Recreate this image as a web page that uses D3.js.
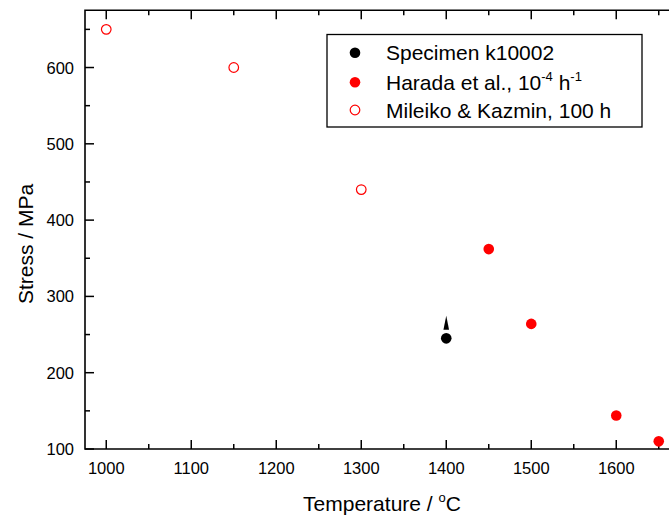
<!DOCTYPE html>
<html>
<head>
<meta charset="utf-8">
<script src="https://cdn.jsdelivr.net/npm/d3@7"></script>
<style>
  html, body { margin: 0; padding: 0; background: #fff; }
  svg { display: block; font-family: Arial, "Liberation Sans", sans-serif; }
</style>
</head>
<body>
<script>
// Creep / rupture stress versus temperature
const specimenT = [1400];
const specimenS = [245];
const haradaT = [1450, 1500, 1600, 1650];
const haradaS = [362, 264, 144, 110];
const mileikoT = [1000, 1150, 1300];
const mileikoS = [650, 600, 440];
const xMajor = [1000, 1100, 1200, 1300, 1400, 1500, 1600];
const xMinor = [1050, 1150, 1250, 1350, 1450, 1550, 1650];
const yMajor = [100, 200, 300, 400, 500, 600];
const yMinor = [150, 250, 350, 450, 550, 650];

const W = 669, H = 517;
const svg = d3.select("body").append("svg").attr("width", W).attr("height", H);

const x = d3.scaleLinear().domain([975, 1675]).range([85, 680]);
const y = d3.scaleLinear().domain([100, 675]).range([449, 10.3]);

const g = svg.append("g");
const axisColor = "#000";

// frame
const x0 = x.range()[0], x1 = x.range()[1], yb = y.range()[0], yt = y.range()[1];
g.append("path")
  .attr("d", `M${x0},${yt}H${x1}V${yb}H${x0}Z`)
  .attr("fill", "none").attr("stroke", axisColor).attr("stroke-width", 1.6);

// inward ticks, bottom and top
function xTicks(vals, len) {
  vals.forEach(v => {
    g.append("line").attr("x1", x(v)).attr("x2", x(v)).attr("y1", yb).attr("y2", yb - len)
      .attr("stroke", axisColor).attr("stroke-width", 1.5);
    g.append("line").attr("x1", x(v)).attr("x2", x(v)).attr("y1", yt).attr("y2", yt + len)
      .attr("stroke", axisColor).attr("stroke-width", 1.5);
  });
}
function yTicks(vals, len) {
  vals.forEach(v => {
    g.append("line").attr("x1", x0).attr("x2", x0 + len).attr("y1", y(v)).attr("y2", y(v))
      .attr("stroke", axisColor).attr("stroke-width", 1.5);
  });
}
xTicks(xMajor, 9); xTicks(xMinor, 5);
yTicks(yMajor, 9); yTicks(yMinor, 5);

// tick labels
g.selectAll(".xl").data(xMajor).enter().append("text")
  .attr("x", d => x(d)).attr("y", 473.5)
  .attr("text-anchor", "middle").attr("font-size", 16.5).text(d => d);
g.selectAll(".yl").data(yMajor).enter().append("text")
  .attr("x", 74).attr("y", d => y(d) + 6)
  .attr("text-anchor", "end").attr("font-size", 16.5).text(d => d);

// axis titles
const xt = svg.append("text").attr("x", 382).attr("y", 510.5)
  .attr("text-anchor", "middle").attr("font-size", 21);
xt.append("tspan").text("Temperature / ");
xt.append("tspan").attr("font-size", 13).attr("dy", -9).text("o");
xt.append("tspan").attr("dy", 9).text("C");

svg.append("text")
  .attr("transform", "translate(32.5,244) rotate(-90)")
  .attr("text-anchor", "middle").attr("font-size", 21).text("Stress / MPa");

// data marks
const r = 5.3;
g.selectAll(".mk").data(mileikoT).enter().append("circle")
  .attr("cx", d => x(d)).attr("cy", (d, i) => y(mileikoS[i])).attr("r", r - 0.5)
  .attr("fill", "none").attr("stroke", "#ff0000").attr("stroke-width", 1.2);
g.selectAll(".hd").data(haradaT).enter().append("circle")
  .attr("cx", d => x(d)).attr("cy", (d, i) => y(haradaS[i])).attr("r", r)
  .attr("fill", "#ff0000");
g.selectAll(".sp").data(specimenT).enter().append("circle")
  .attr("cx", d => x(d)).attr("cy", (d, i) => y(specimenS[i])).attr("r", r)
  .attr("fill", "#000");
// upward arrow: the specimen did not fail at this stress
specimenT.forEach((t, i) => {
  const cx = x(t), cy = y(specimenS[i]);
  g.append("path")
    .attr("d", `M${cx},${cy - 22.5}L${cx - 2.8},${cy - 8.5}L${cx + 2.8},${cy - 8.5}Z`)
    .attr("fill", "#000");
});

// legend
const lg = svg.append("g");
lg.append("rect").attr("x", 327).attr("y", 34.5).attr("width", 315).attr("height", 92.5)
  .attr("fill", "#fff").attr("stroke", "#000").attr("stroke-width", 1.3);
const rows = [52.7, 82.3, 110];
lg.append("circle").attr("cx", 355).attr("cy", rows[0]).attr("r", r).attr("fill", "#000");
lg.append("circle").attr("cx", 355).attr("cy", rows[1]).attr("r", r).attr("fill", "#ff0000");
lg.append("circle").attr("cx", 355).attr("cy", rows[2]).attr("r", r - 0.5)
  .attr("fill", "none").attr("stroke", "#ff0000").attr("stroke-width", 1.2);

const t1 = lg.append("text").attr("x", 386).attr("y", rows[0] + 7.5).attr("font-size", 21);
t1.text("Specimen k10002");
const t2 = lg.append("text").attr("x", 386).attr("y", rows[1] + 7.5).attr("font-size", 21);
t2.append("tspan").text("Harada et al., 10");
t2.append("tspan").attr("font-size", 13).attr("dy", -9).text("-4");
t2.append("tspan").attr("dy", 9).text(" h");
t2.append("tspan").attr("font-size", 13).attr("dy", -9).text("-1");
const t3 = lg.append("text").attr("x", 386).attr("y", rows[2] + 7.5).attr("font-size", 21);
t3.text("Mileiko & Kazmin, 100 h");
</script>
</body>
</html>
